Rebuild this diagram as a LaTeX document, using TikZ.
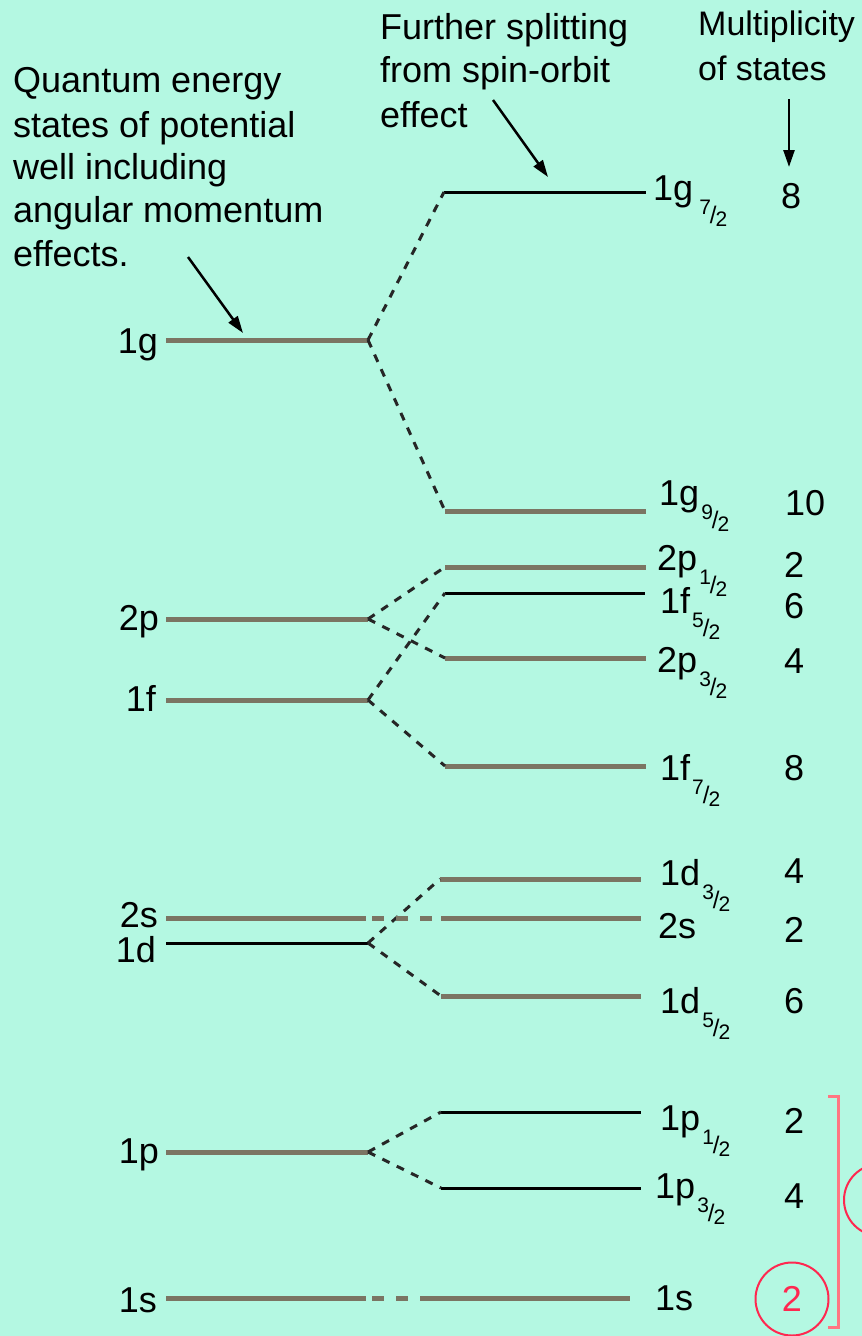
\documentclass[tikz,border=0pt]{standalone}
\usepackage{fontspec}
\setmainfont{Liberation Sans}
\usetikzlibrary{arrows.meta}
\definecolor{bgmint}{RGB}{180,248,226}
\definecolor{levelgray}{RGB}{123,117,99}
\definecolor{ringred}{RGB}{255,40,80}
\definecolor{bracketred}{RGB}{255,118,130}
% small slanted fraction used as the j subscript
\newcommand\spinfrac[2]{\kern2pt\raisebox{-26pt}{\fontsize{21}{21}\selectfont\raisebox{12pt}{#1}\kern-1pt\raisebox{3pt}{\fontsize{24}{24}\selectfont/}\kern-1pt#2}}
\begin{document}
\begin{tikzpicture}[x=1pt,y=-1pt,
  thicklevel/.style={levelgray,line width=5pt},
  thinlevel/.style={black,line width=3pt},
  split/.style={black!85,line width=3pt,dash pattern=on 8pt off 8pt},
  carry/.style={levelgray,line width=5pt,dash pattern=on 12pt off 12pt},
  lbl/.style={inner sep=0pt,font=\fontsize{36}{40}\selectfont},
  pointer/.style={black,line width=2.5pt,-{Triangle[length=17pt,width=11pt]}}]
\fill[bgmint] (0,0) rectangle (862,1336);
\clip (0,0) rectangle (862,1336);

% ---- left column: levels without spin-orbit term
\coordinate (a1g) at (166,340);  \coordinate (v1g) at (368,340);
\coordinate (a2p) at (166,619);  \coordinate (v2p) at (368,619);
\coordinate (a1f) at (166,700);  \coordinate (v1f) at (368,700);
\coordinate (a2s) at (166,918);  \coordinate (v2s) at (366,918);
\coordinate (a1d) at (166,943);  \coordinate (v1d) at (368,943);
\coordinate (a1p) at (166,1152); \coordinate (v1p) at (368,1152);
\coordinate (a1s) at (166,1298); \coordinate (v1s) at (366,1298);

% ---- right column: split levels
\coordinate (b1g7) at (444,192);  \coordinate (e1g7) at (646,192);
\coordinate (b1g9) at (445,511);  \coordinate (e1g9) at (646,511);
\coordinate (b2p1) at (445,567);  \coordinate (e2p1) at (646,567);
\coordinate (b1f5) at (445,593);  \coordinate (e1f5) at (645,593);
\coordinate (b2p3) at (445,658);  \coordinate (e2p3) at (646,658);
\coordinate (b1f7) at (445,766);  \coordinate (e1f7) at (646,766);
\coordinate (b1d3) at (440,879);  \coordinate (e1d3) at (641,879);
\coordinate (b2s)  at (441,918);  \coordinate (e2s)  at (641,918);
\coordinate (b1d5) at (441,996);  \coordinate (e1d5) at (641,996);
\coordinate (b1p1) at (441,1112); \coordinate (e1p1) at (641,1112);
\coordinate (b1p3) at (441,1188); \coordinate (e1p3) at (641,1188);
\coordinate (b1s)  at (420,1298); \coordinate (e1s)  at (630,1298);

% left levels
\draw[thicklevel] (a1g) -- (v1g);
\draw[thicklevel] (a2p) -- (v2p);
\draw[thicklevel] (a1f) -- (v1f);
\draw[thicklevel] (a2s) -- (v2s);
\draw[thinlevel]  (a1d) -- (v1d);
\draw[thicklevel] (a1p) -- (v1p);
\draw[thicklevel] (a1s) -- (v1s);

% right levels
\draw[thinlevel]  (b1g7) -- (e1g7);
\draw[thicklevel] (b1g9) -- (e1g9);
\draw[thicklevel] (b2p1) -- (e2p1);
\draw[thinlevel]  (b1f5) -- (e1f5);
\draw[thicklevel] (b2p3) -- (e2p3);
\draw[thicklevel] (b1f7) -- (e1f7);
\draw[thicklevel] (b1d3) -- (e1d3);
\draw[thicklevel] (b2s)  -- (e2s);
\draw[thicklevel] (b1d5) -- (e1d5);
\draw[thinlevel]  (b1p1) -- (e1p1);
\draw[thinlevel]  (b1p3) -- (e1p3);
\draw[thicklevel] (b1s)  -- (e1s);

% spin-orbit splitting connectors
\draw[split] (v1g) -- (b1g7);
\draw[split] (v1g) -- (b1g9);
\draw[split] (v2p) -- (b2p1);
\draw[split] (v2p) -- (b2p3);
\draw[split] (v1f) -- (b1f5);
\draw[split] (v1f) -- (b1f7);
\draw[split] (v1d) -- (b1d3);
\draw[split] (v1d) -- (b1d5);
\draw[split] (v1p) -- (b1p1);
\draw[split] (v1p) -- (b1p3);
\draw[carry, dash phase=-6pt] (v2s) -- (b2s);
\draw[carry, dash phase=-6pt] (v1s) -- (b1s);

% left labels
\node[lbl,anchor=base east] (t1g) at (158,353) {1g};
\node[lbl,anchor=base east] (t2p) at (159,630) {2p};
\node[lbl,anchor=base east] (t1f) at (156,711) {1f};
\node[lbl,anchor=base east] (t2s) at (158,927) {2s};
\node[lbl,anchor=base east] (t1d) at (156,962) {1d};
\node[lbl,anchor=base east] (t1p) at (159,1163) {1p};
\node[lbl,anchor=base east] (t1s) at (157,1312) {1s};

% right labels
\node[lbl,anchor=base west] (r1g7) at (653,200)  {1g\kern4pt\spinfrac{7}{2}};
\node[lbl,anchor=base west] (r1g9) at (659,505)  {1g\spinfrac{9}{2}};
\node[lbl,anchor=base west] (r2p1) at (657,570)  {2p\spinfrac{1}{2}};
\node[lbl,anchor=base west] (r1f5) at (660,613)  {1f\spinfrac{5}{2}};
\node[lbl,anchor=base west] (r2p3) at (657,672)  {2p\spinfrac{3}{2}};
\node[lbl,anchor=base west] (r1f7) at (660,780)  {1f\spinfrac{7}{2}};
\node[lbl,anchor=base west] (r1d3) at (660,885)  {1d\spinfrac{3}{2}};
\node[lbl,anchor=base west] (r2s)  at (658,938)  {2s};
\node[lbl,anchor=base west] (r1d5) at (660,1013) {1d\spinfrac{5}{2}};
\node[lbl,anchor=base west] (r1p1) at (660,1130) {1p\spinfrac{1}{2}};
\node[lbl,anchor=base west] (r1p3) at (655,1198) {1p\spinfrac{3}{2}};
\node[lbl,anchor=base west] (r1s)  at (655,1310) {1s};

% multiplicities
\node[lbl,anchor=base west] (m1g7) at (781,208)  {8};
\node[lbl,anchor=base west] (m1g9) at (785,515)  {10};
\node[lbl,anchor=base west] (m2p1) at (784,577)  {2};
\node[lbl,anchor=base west] (m1f5) at (784,618)  {6};
\node[lbl,anchor=base west] (m2p3) at (784,673)  {4};
\node[lbl,anchor=base west] (m1f7) at (784,780)  {8};
\node[lbl,anchor=base west] (m1d3) at (784,883)  {4};
\node[lbl,anchor=base west] (m2s)  at (784,942)  {2};
\node[lbl,anchor=base west] (m1d5) at (784,1013) {6};
\node[lbl,anchor=base west] (m1p1) at (784,1133) {2};
\node[lbl,anchor=base west] (m1p3) at (784,1208) {4};
\node[lbl,text=ringred,draw=ringred,line width=2pt,circle,minimum size=73pt] (m1s) at (792,1299) {2};

% shell closure marks
\draw[bracketred,line width=3pt] (828,1096) -- (838,1096) -- (838,1327) -- (828,1327);
\draw[ringred,line width=2pt] (880,1200) circle[radius=36];

% annotations
\node[lbl,anchor=base west] (q1) at (13,92)  {Quantum energy};
\node[lbl,anchor=base west] (q2) at (13,137) {states of potential};
\node[lbl,anchor=base west] (q3) at (13,179) {well including};
\node[lbl,anchor=base west] (q4) at (13,222) {angular momentum};
\node[lbl,anchor=base west] (q5) at (13,266) {effects.};

\node[lbl,anchor=base west] (s1) at (380,39)  {Further splitting};
\node[lbl,anchor=base west] (s2) at (380,82)  {from spin-orbit};
\node[lbl,anchor=base west] (s3) at (380,127) {effect};

\node[lbl,anchor=base west,font=\fontsize{34}{40}\selectfont] (u1) at (698,35) {Multiplicity};
\node[lbl,anchor=base west,font=\fontsize{34}{40}\selectfont] (u2) at (698,80) {of states};

% pointers
\coordinate (pq) at (188,257); \coordinate (hq) at (243,333);
\coordinate (ps) at (493,100); \coordinate (hs) at (548,177);
\coordinate (pu) at (789,99);  \coordinate (hu) at (789,167);
\draw[pointer] (pq) -- (hq);
\draw[pointer] (ps) -- (hs);
\draw[pointer] (pu) -- (hu);
\end{tikzpicture}
\end{document}
